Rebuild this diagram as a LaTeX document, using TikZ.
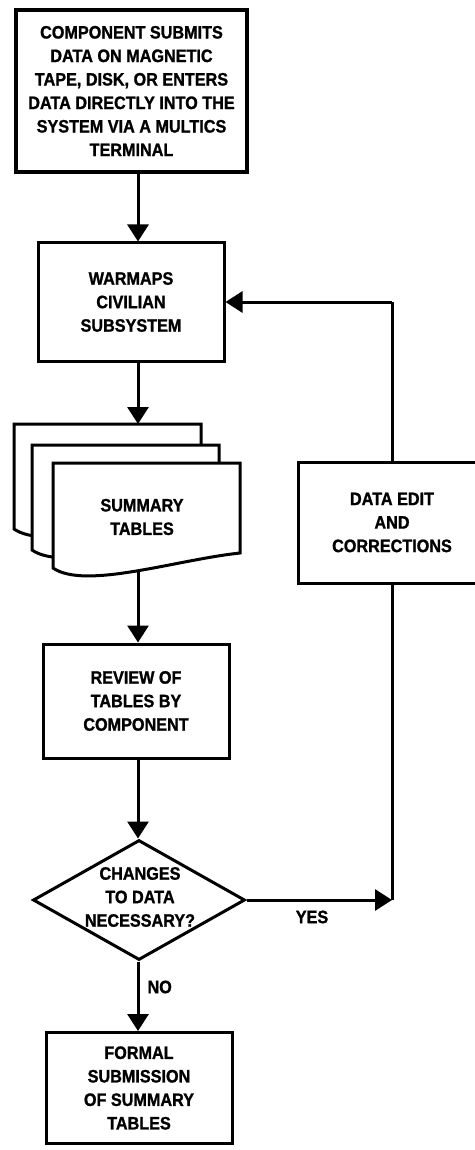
\documentclass[tikz,border=0pt]{standalone}
\usepackage{fontspec}
\setmainfont{Liberation Sans}[FakeStretch=0.9, BoldFeatures={FakeBold=1.2}]
\usetikzlibrary{arrows.meta,shapes.geometric}
\tikzset{
  txt/.style={font=\fontsize{18}{23.5}\selectfont\bfseries, align=center, text=black},
  box/.style={txt, draw, line width=3pt, inner sep=0pt},
  arr/.style={line width=3pt, -{Triangle[length=17pt,width=21pt]}},
  ln/.style={line width=3pt},
  docshape/.style={draw, fill=white, line width=3pt, line join=miter},
}
\newcommand\drawdoc[2]{%
  \draw[docshape, shift={(#1,#2)}] (0,0) -- (187,0) -- (187,90)
    .. controls (122,97) and (32,127) .. (0,105) -- cycle;}
\begin{document}
\begin{tikzpicture}[x=1pt,y=-1pt]
\useasboundingbox[fill=white] (0,0) rectangle (474,1150);

\coordinate (col) at (138,0);
\coordinate (fbx) at (392,0);

% boxes
\node[box, line width=3.6pt, minimum width=231pt, minimum height=162pt] (submit) at (131.5,91)
  {COMPONENT SUBMITS\\DATA ON MAGNETIC\\TAPE, DISK, OR ENTERS\\DATA DIRECTLY INTO THE\\SYSTEM VIA A MULTICS\\TERMINAL};
\node[box, minimum width=186pt, minimum height=118pt] (warmaps) at (131,302)
  {WARMAPS\\CIVILIAN\\SUBSYSTEM};

% document stack
\drawdoc{14}{424}
\drawdoc{32}{445}
\drawdoc{53}{463}
\coordinate (stacktop) at (138,424);
\coordinate (stackbot) at (138,571);
\node[txt] (summary) at (142,517) {SUMMARY\\TABLES};

\node[box, minimum width=186pt, minimum height=114pt] (review) at (136,701)
  {REVIEW OF\\TABLES BY\\COMPONENT};
\node[box, minimum width=188pt, minimum height=121pt] (dataedit) at (392,522.5)
  {DATA EDIT\\AND\\CORRECTIONS};

\node[diamond, draw, line width=3pt, minimum width=212pt, minimum height=120pt, inner sep=0pt] (dec) at (139,900) {};
\node[txt] (dectext) at (140,897) {CHANGES\\TO DATA\\NECESSARY?};

\node[box, minimum width=186pt, minimum height=111pt] (formal) at (139,1088)
  {FORMAL\\SUBMISSION\\OF SUMMARY\\TABLES};

% connectors
\coordinate (yescorner) at (392,900);
\coordinate (fbtop) at (392,302);
\draw[arr] (submit.south -| col) -- (warmaps.north -| col);
\draw[arr] (warmaps.south -| col) -- (stacktop);
\draw[arr] (stackbot) -- (review.north -| col);
\draw[arr] (review.south -| col) -- (dec.north -| col);
\draw[arr] (dec.east) -- (yescorner);
\draw[ln] (yescorner) -- (dataedit.south -| fbx);
\draw[ln] (dataedit.north -| fbx) -- (fbtop);
\draw[arr] (fbtop) -- (warmaps.east |- fbtop);
\draw[arr] (dec.south -| col) -- (formal.north -| col);

\node[txt] (yes) at (312,917) {YES};
\node[txt, anchor=west] (no) at (144,987) {NO};
\end{tikzpicture}
\end{document}
